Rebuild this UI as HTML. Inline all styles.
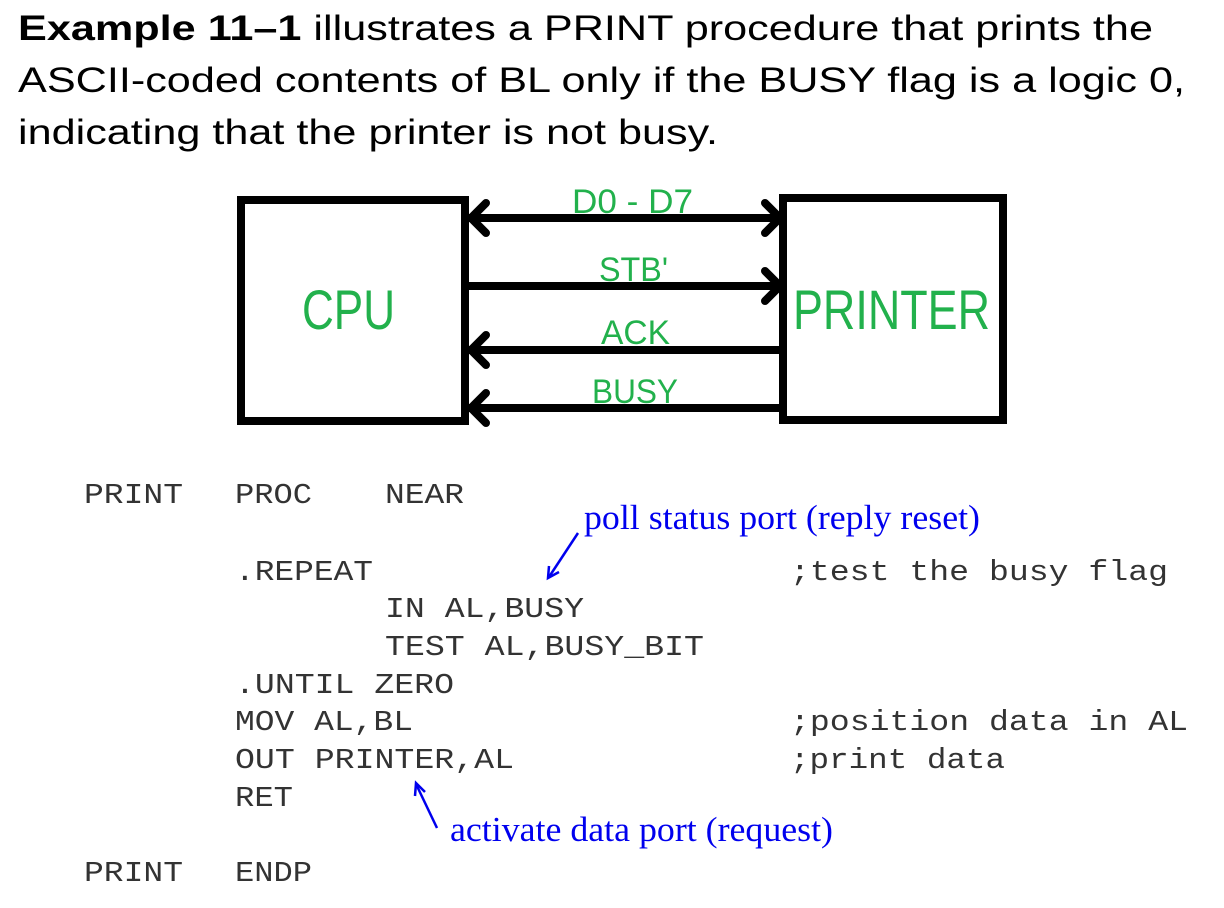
<!DOCTYPE html>
<html><head><style>
html,body{margin:0;padding:0;background:#fff;}
svg{display:block;}
</style></head><body>
<svg width="1224" height="908" viewBox="0 0 1224 908" xmlns="http://www.w3.org/2000/svg">
<g font-family="Liberation Sans, Arial, sans-serif" font-size="35" fill="#000">
<text x="18" y="40" textLength="1135" lengthAdjust="spacingAndGlyphs"><tspan font-weight="bold">Example 11–1</tspan> illustrates a PRINT procedure that prints the</text>
<text x="18" y="92" textLength="1167" lengthAdjust="spacingAndGlyphs">ASCII-coded contents of BL only if the BUSY flag is a logic 0,</text>
<text x="18" y="144" textLength="700" lengthAdjust="spacingAndGlyphs">indicating that the printer is not busy.</text>
</g>
<g fill="none" stroke="#000" stroke-width="8">
<rect x="241" y="200" width="224" height="221"/>
<rect x="783" y="198" width="220" height="222"/>
<line x1="466" y1="218" x2="779" y2="218"/>
<line x1="466" y1="286" x2="779" y2="286"/>
<line x1="466" y1="350" x2="779" y2="350"/>
<line x1="466" y1="408" x2="779" y2="408"/>
<polyline points="486,203 471,218 486,233" stroke-linecap="round"/>
<polyline points="765,203 780,218 765,233" stroke-linecap="round"/>
<polyline points="765,271 780,286 765,301" stroke-linecap="round"/>
<polyline points="486,335 471,350 486,365" stroke-linecap="round"/>
<polyline points="486,393 471,408 486,423" stroke-linecap="round"/>
</g>
<g font-family="Liberation Sans, Arial, sans-serif" fill="#22b14c">
<text x="572" y="213" font-size="34" textLength="121" lengthAdjust="spacingAndGlyphs">D0 - D7</text>
<text x="599" y="281" font-size="34" textLength="69" lengthAdjust="spacingAndGlyphs">STB'</text>
<text x="601" y="344" font-size="34" textLength="69" lengthAdjust="spacingAndGlyphs">ACK</text>
<text x="592" y="403" font-size="34" textLength="86" lengthAdjust="spacingAndGlyphs">BUSY</text>
<text x="302" y="329" font-size="56" textLength="93" lengthAdjust="spacingAndGlyphs">CPU</text>
<text x="793" y="329" font-size="56" textLength="197" lengthAdjust="spacingAndGlyphs">PRINTER</text>
</g>
<g font-family="Liberation Mono, Courier New, monospace" font-size="29" fill="#333">
<text x="84" y="503" textLength="99" lengthAdjust="spacingAndGlyphs">PRINT</text>
<text x="235" y="503" textLength="77" lengthAdjust="spacingAndGlyphs">PROC</text>
<text x="385" y="503" textLength="79" lengthAdjust="spacingAndGlyphs">NEAR</text>
<text x="235" y="580" textLength="138" lengthAdjust="spacingAndGlyphs">.REPEAT</text>
<text x="790" y="580" textLength="378" lengthAdjust="spacingAndGlyphs">;test the busy flag</text>
<text x="385" y="617" textLength="199" lengthAdjust="spacingAndGlyphs">IN AL,BUSY</text>
<text x="385" y="655" textLength="319" lengthAdjust="spacingAndGlyphs">TEST AL,BUSY_BIT</text>
<text x="235" y="693" textLength="219" lengthAdjust="spacingAndGlyphs">.UNTIL ZERO</text>
<text x="235" y="730" textLength="178" lengthAdjust="spacingAndGlyphs">MOV AL,BL</text>
<text x="790" y="730" textLength="398" lengthAdjust="spacingAndGlyphs">;position data in AL</text>
<text x="235" y="768" textLength="279" lengthAdjust="spacingAndGlyphs">OUT PRINTER,AL</text>
<text x="790" y="768" textLength="215" lengthAdjust="spacingAndGlyphs">;print data</text>
<text x="235" y="806" textLength="58" lengthAdjust="spacingAndGlyphs">RET</text>
<text x="84" y="881" textLength="99" lengthAdjust="spacingAndGlyphs">PRINT</text>
<text x="235" y="881" textLength="77" lengthAdjust="spacingAndGlyphs">ENDP</text>
</g>
<g font-family="Liberation Serif, Times New Roman, serif" font-size="35" fill="#0000ee">
<text x="584" y="529" textLength="396" lengthAdjust="spacingAndGlyphs">poll status port (reply reset)</text>
<text x="450" y="841" textLength="383" lengthAdjust="spacingAndGlyphs">activate data port (request)</text>
</g>
<g stroke="#0000ee" stroke-width="2.5" fill="none">
<line x1="578" y1="533" x2="549" y2="577"/>
<polyline points="549,566 548,578 559,572"/>
<line x1="437" y1="828" x2="416" y2="784"/>
<polyline points="415,796 416,783 425,792"/>
</g>
</svg>
</body></html>
